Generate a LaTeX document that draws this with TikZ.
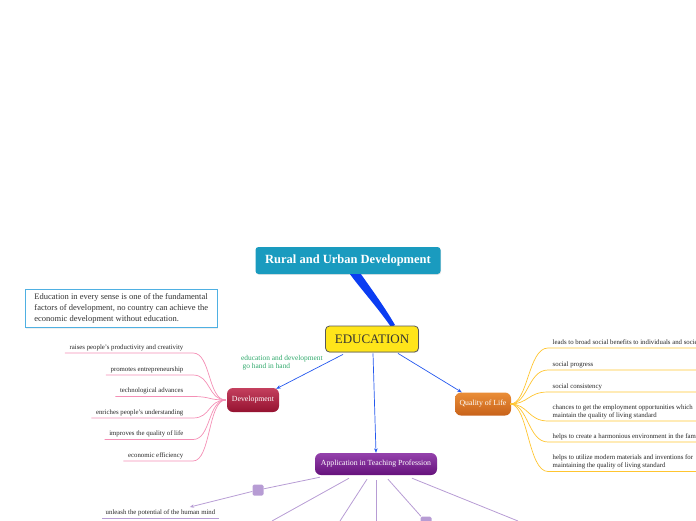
\documentclass[tikz,border=0pt]{standalone}
\usepackage{fontspec}
\setmainfont{Liberation Serif}
\usetikzlibrary{arrows.meta,shadows}

\definecolor{titleteal}{HTML}{1A9BBF}
\definecolor{eduyellow}{HTML}{FFE51A}
\definecolor{linkblue}{HTML}{0B3DF2}
\definecolor{arrowblue}{HTML}{2458EE}
\definecolor{notegreen}{HTML}{2EA86A}
\definecolor{noteblue}{HTML}{4FB0E2}
\definecolor{devtop}{HTML}{C4405E}
\definecolor{devbottom}{HTML}{951230}
\definecolor{qualtop}{HTML}{EA8E38}
\definecolor{qualbottom}{HTML}{C8621A}
\definecolor{apptop}{HTML}{9442AC}
\definecolor{appbottom}{HTML}{66127C}
\definecolor{devpink}{HTML}{F48FB5}
\definecolor{qualgold}{HTML}{FFC530}
\definecolor{applilac}{HTML}{B79CD4}

\newcommand\leaffont{\fontsize{6.8}{8.2}\selectfont}

\tikzset{
  titlebox/.style={fill=titleteal, text=white, rounded corners=3pt, minimum width=185pt,
    minimum height=27pt, font=\bfseries\fontsize{12.5}{14}\selectfont,
    drop shadow={opacity=0.2,shadow xshift=0.6pt,shadow yshift=-0.8pt}},
  edubox/.style={fill=eduyellow, draw=black!65, line width=0.8pt, rounded corners=4pt,
    minimum width=93pt, minimum height=26pt, text=black!80, font=\fontsize{13}{15}\selectfont,
    drop shadow={opacity=0.25,shadow xshift=0.6pt,shadow yshift=-0.8pt}},
  notebox/.style={draw=noteblue, fill=white, line width=0.9pt, align=left,
    inner xsep=9pt, inner ysep=4.5pt, anchor=north west, text=black!80,
    font=\fontsize{8.5}{10.8}\selectfont,
    drop shadow={opacity=0.12,shadow xshift=0.6pt,shadow yshift=-0.8pt}},
  topic/.style={rounded corners=6pt, text=white, font=\fontsize{7.8}{9}\selectfont, inner xsep=2pt},
  devleaf/.style={anchor=south east, inner xsep=4.5pt, inner ysep=2pt, text height=5pt,
    text depth=1.6pt, font=\leaffont, text=black!85},
  qualleaf/.style={anchor=south west, align=left, inner xsep=4.5pt, inner ysep=2pt,
    text depth=1.6pt, font=\leaffont, text=black!85},
  appleaf/.style={anchor=south west, inner xsep=3.5pt, inner ysep=2pt, text height=5pt,
    text depth=1.6pt, font=\leaffont, text=black!85},
  knot/.style={fill=applilac, rounded corners=1.5pt, minimum size=11pt, inner sep=0pt},
  mainarrow/.style={draw=arrowblue, line width=0.7pt, -{Stealth[length=4.5pt,width=3.5pt]}},
  pinkline/.style={draw=devpink, line width=0.7pt},
  goldline/.style={draw=qualgold, line width=0.7pt},
  lilacline/.style={draw=applilac, line width=0.8pt},
}

\begin{document}
\begin{tikzpicture}[x=1pt,y=-1pt]
\useasboundingbox (0,0) rectangle (696,520);
\clip (0,0) rectangle (696,520);

% centre
\node[titlebox] (rural) at (348,260.5) {Rural and Urban Development};
\fill[linkblue] ([xshift=2pt]rural.south) .. controls (360,288) and (378,308) .. (391,327)
  -- (395,325) .. controls (384,306) and (370,287) .. ([xshift=13pt]rural.south) -- cycle;
\node[edubox] (edu) at (372,339) {EDUCATION};

\node[notebox] (note) at (25,289) {Education in every sense is one of the fundamental\\
  factors of development, no country can achieve the\\ economic development without education.};

% main topics
\node[topic, top color=devtop, bottom color=devbottom, minimum width=52pt,
  minimum height=24pt] (dev) at (253,400) {Development};
\node[topic, top color=qualtop, bottom color=qualbottom, minimum width=56pt,
  minimum height=23pt] (qual) at (483,404) {Quality of Life};
\node[topic, top color=apptop, bottom color=appbottom, minimum width=122pt,
  minimum height=22pt] (app) at (376,464) {Application in Teaching Profession};

\draw[mainarrow] ([xshift=-29pt,yshift=-2pt]edu.south) -- ([xshift=-3pt,yshift=-1pt]dev.north east);
\draw[mainarrow] ([xshift=1pt,yshift=-1pt]edu.south) -- (app.north);
\draw[mainarrow] ([xshift=26pt,yshift=-1pt]edu.south) -- ([xshift=7pt]qual.north west);
\node[anchor=north west, inner sep=0pt, align=left, text=notegreen,
  font=\fontsize{7.4}{8.5}\selectfont] (hand) at (241,355) {education and development\\
  \hspace{1.5pt}go hand in hand};

% development
\node[devleaf] (d1) at (188,353) {raises people's productivity and creativity};
\node[devleaf] (d2) at (188,375) {promotes entrepreneurship};
\node[devleaf] (d3) at (188,396.5) {technological advances};
\node[devleaf] (d4) at (188,418) {enriches people's understanding};
\node[devleaf] (d5) at (188,439.5) {improves the quality of life};
\node[devleaf] (d6) at (188,461) {economic efficiency};
\foreach \leaf in {d1,d2,d3,d4,d5,d6}
  \draw[pinkline] ([xshift=-1pt]dev.west) .. controls +(-18,0) and +(18,0) ..
    ([xshift=5pt]\leaf.south east) -- (\leaf.south west);

% quality of life
\node[qualleaf] (q1) at (548,348) {leads to broad social benefits to individuals and society};
\node[qualleaf] (q2) at (548,370) {social progress};
\node[qualleaf] (q3) at (548,392) {social consistency};
\node[qualleaf] (q4) at (548,421) {chances to get the employment opportunities which\\
  maintain the quality of living standard};
\node[qualleaf] (q5) at (548,442) {helps to create a harmonious environment in the family};
\node[qualleaf] (q6) at (548,471.5) {helps to utilize modern materials and inventions for\\
  maintaining the quality of living standard};
\foreach \leaf in {q1,q2,q3,q4,q5,q6}
  \draw[goldline] ([xshift=-1pt]qual.east) .. controls +(18,0) and +(-20,0) ..
    (\leaf.south west) -- ([xshift=160pt]\leaf.south west);

% teaching profession
\node[knot] (k1) at (258,490) {};
\node[knot] (k2) at (426,522) {};
\node[appleaf] (a1) at (102,518) {unleash the potential of the human mind};
\coordinate (e2) at (272,521);
\coordinate (e3) at (340,521);
\coordinate (e4) at (376,521);
\coordinate (e6) at (518,521);

\draw[lilacline] ([xshift=-56pt,yshift=-2pt]app.south) -- (k1);
\draw[lilacline] ([xshift=-27pt,yshift=-3pt]app.south) -- (e2);
\draw[lilacline] ([xshift=-9pt,yshift=-4pt]app.south) -- (e3);
\draw[lilacline] ([yshift=-5pt]app.south) -- (e4);
\draw[lilacline] ([xshift=12pt,yshift=-4pt]app.south) -- (k2);
\draw[lilacline] ([xshift=36pt,yshift=-3pt]app.south) -- (e6);
\draw[lilacline, -{Stealth[length=4pt,width=3.5pt]}] (k1) -- ([xshift=-29pt]a1.north east);
\draw[lilacline] (a1.south west) -- (a1.south east);

\end{tikzpicture}
\end{document}
